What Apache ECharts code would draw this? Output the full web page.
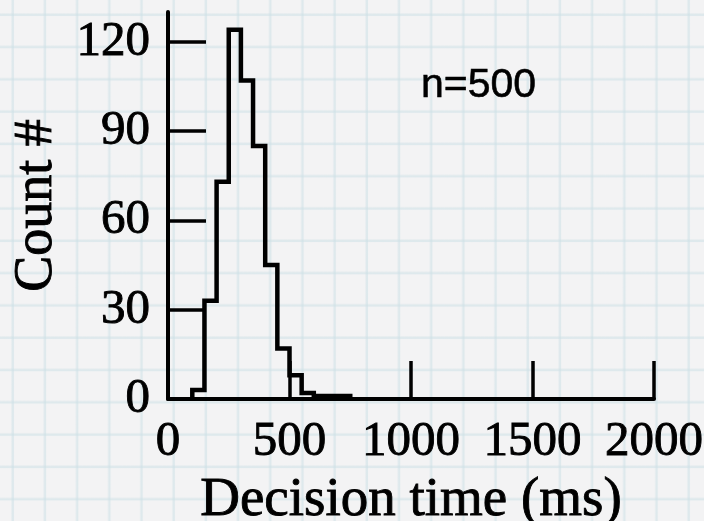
<!DOCTYPE html>
<html>
<head>
<meta charset="utf-8">
<script src="https://cdn.jsdelivr.net/npm/echarts@6/dist/echarts.min.js"></script>
<style>
  html, body { margin: 0; padding: 0; }
  #chart {
    width: 704px;
    height: 521px;
    background-color: #f3f3f4;
    background-image:
      linear-gradient(to right, transparent 0, rgba(205, 224, 230, 0.55) 1px, rgba(205, 224, 230, 0.55) 2.5px, transparent 3.5px),
      linear-gradient(to bottom, transparent 0, rgba(205, 224, 230, 0.55) 1px, rgba(205, 224, 230, 0.55) 2.5px, transparent 3.5px);
    background-size: 32.2px 32.3px;
    background-position: 11px 13px;
  }
</style>
</head>
<body>
<div id="chart"></div>
<script>
// Histogram of decision times: bin edges (ms) and counts per bin
const binEdges = [100, 150, 200, 250, 300, 350, 400, 450, 500, 550, 600, 650, 700, 750];
const counts   = [3, 33, 73, 124, 107, 85, 45, 17, 8, 2, 1, 1, 1];

// Axis tick labels
const xTickValues = [0, 500, 1000, 1500, 2000];
const yTickValues = [0, 30, 60, 90, 120];

const sampleLabel = 'n=500';

// Step outline: rise from the baseline at the first edge, step through each bin,
// and drop back to the baseline at the last edge.
const outline = [[binEdges[0], 0]];
counts.forEach((c, i) => outline.push([binEdges[i], c]));
outline.push([binEdges[binEdges.length - 1], 0]);

const serif = '"Liberation Serif", "Times New Roman", serif';
const ink = { color: '#000', textBorderColor: '#000', textBorderWidth: 0.9 };

const chart = echarts.init(document.getElementById('chart'), null, { renderer: 'canvas' });

chart.setOption({
  backgroundColor: 'transparent',
  animation: false,
  grid: { left: 168, right: 50, top: 12, bottom: 122, containLabel: false, outerBoundsMode: 'none' },
  xAxis: {
    type: 'value',
    min: 0,
    max: 2000,
    interval: 500,
    name: 'Decision time (ms)',
    nameLocation: 'middle',
    nameGap: 68,
    nameTextStyle: Object.assign({ fontFamily: serif, fontSize: 55 }, ink),
    axisLine: { show: true, lineStyle: { color: '#000', width: 4 } },
    axisTick: { show: true, inside: true, length: 38, lineStyle: { color: '#000', width: 3.5 },
                customValues: xTickValues },
    axisLabel: Object.assign({ fontFamily: serif, fontSize: 49, margin: 19,
                 customValues: xTickValues, formatter: v => String(v) }, ink),
    splitLine: { show: false }
  },
  yAxis: {
    type: 'value',
    min: 0,
    max: 130,
    name: 'Count #',
    nameLocation: 'middle',
    nameRotate: 90,
    nameGap: 104,
    nameTextStyle: Object.assign({ fontFamily: serif, fontSize: 54 }, ink),
    axisLine: { show: true, lineStyle: { color: '#000', width: 4 } },
    axisTick: { show: true, inside: true, length: 38, lineStyle: { color: '#000', width: 3.5 },
                customValues: yTickValues },
    axisLabel: Object.assign({ fontFamily: serif, fontSize: 49, margin: 18,
                 customValues: yTickValues, formatter: v => String(v) }, ink),
    splitLine: { show: false }
  },
  series: [{
    type: 'line',
    step: 'end',
    data: outline,
    showSymbol: false,
    symbol: 'none',
    lineStyle: { color: '#000', width: 4.5, join: 'miter' },
    z: 3
  }],
  graphic: [{
    type: 'text',
    x: 421,
    y: 86,
    style: {
      text: sampleLabel,
      font: '41px "Liberation Sans", Arial, sans-serif',
      fill: '#000',
      stroke: '#000',
      lineWidth: 0.6,
      verticalAlign: 'middle',
      align: 'left'
    }
  }]
});
</script>
</body>
</html>
